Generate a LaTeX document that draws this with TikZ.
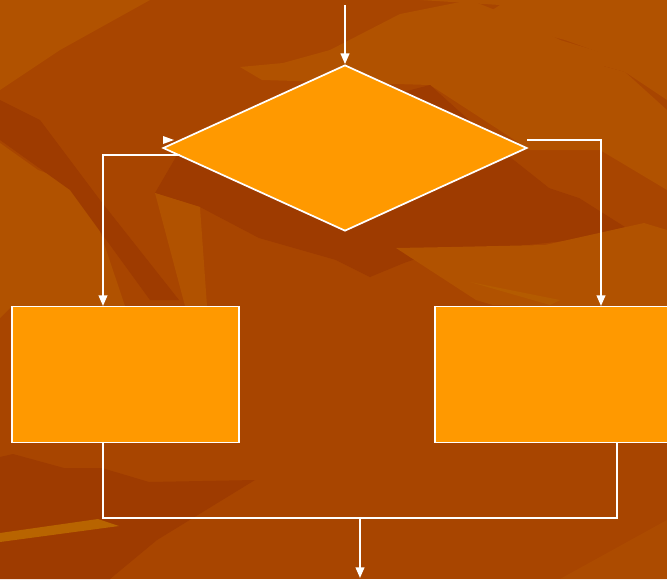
\documentclass[tikz,border=0pt]{standalone}
\usetikzlibrary{shapes.geometric,arrows.meta}
\definecolor{bgbase}{RGB}{168,69,0}
\definecolor{bglight}{RGB}{177,82,0}
\definecolor{bgdark}{RGB}{158,59,0}
\definecolor{bgstreak}{RGB}{184,100,0}
\definecolor{boxfill}{RGB}{255,153,0}
\tikzset{
  x=0.75pt,y=-0.75pt,
  flowbox/.style={draw=white,line width=1.3pt,fill=boxfill,inner sep=0pt},
  decision/.style={diamond,draw=white,line width=1.3pt,fill=boxfill,inner sep=0pt,
     minimum width=273pt,minimum height=124.5pt},
  link/.style={draw=white,line width=1.4pt},
  arr/.style={link,-{Triangle[length=8pt,width=6.5pt]}},
}
\begin{document}
\begin{tikzpicture}
\useasboundingbox (0,0) rectangle (667,579);
\clip (0,0) rectangle (667,579);
% background
\fill[bgbase] (0,0) rectangle (667,579);
\fill[bglight] (0,0) -- (150,0) -- (60,50) -- (0,90) -- cycle;
\fill[bglight] (420,0) -- (667,0) -- (667,100) -- (625,72) -- (600,65) -- (598,52) -- (565,40) -- (480,18) -- (500,5) -- cycle;
\fill[bglight] (240,67) -- (283,63) -- (330,50) -- (400,14) -- (470,0) -- (520,20) -- (560,40) -- (600,52) -- (603,66) -- (625,72) -- (667,110) -- (667,190) -- (600,150) -- (530,150) -- (430,85) -- (262,80) -- cycle;
\fill[bgdark] (430,85) -- (510,157) -- (549,188) -- (579,198) -- (625,227) -- (574,240) -- (481,250) -- (451,247) -- (404,263) -- (370,277) -- (336,260) -- (259,238) -- (200,207) -- (155,193) -- (180,150) -- cycle;
\fill[bglight] (396,248) -- (451,247) -- (545,245) -- (644,223) -- (667,230) -- (667,310) -- (493,305) -- (476,300) -- cycle;
\fill[bgstreak,opacity=0.5] (470,282) -- (560,300) -- (550,305) -- cycle;
\fill[bglight] (0,143) -- (38,170) -- (85,187) -- (125,306) -- (12,306) -- (0,318) -- cycle;
\fill[bgdark] (0,100) -- (40,120) -- (100,200) -- (179,300) -- (150,300) -- (70,190) -- (0,140) -- cycle;
\fill[bglight] (155,193) -- (200,207) -- (207,306) -- (185,306) -- cycle;
\fill[bgdark] (0,457) -- (13,454) -- (64,468) -- (102,468) -- (149,482) -- (255,480) -- (157,540) -- (110,579) -- (0,579) -- cycle;
\fill[bgstreak] (0,533) -- (98,519) -- (119,526) -- (0,542) -- cycle;
\fill[bglight,opacity=0.5] (560,579) -- (667,520) -- (667,579) -- cycle;
% nodes
\node[decision] (dec) at (345,148) {};
\node[flowbox,minimum width=170.25pt,minimum height=102pt] (lbox) at (125.5,374.5) {};
\node[flowbox,minimum width=186pt,minimum height=102pt] (rbox) at (559,374.5) {};
\coordinate (top) at (345,5);
\coordinate (lstart) at (180,155);
\coordinate (lcorner) at (103,155);
\coordinate (lend) at (103,306);
\coordinate (rstart) at (527,140);
\coordinate (rend) at (601,306);
\coordinate (lbot) at (103,443);
\coordinate (rbot) at (617,443);
\coordinate (join) at (360,518);
\coordinate (outend) at (360,578);
% connectors
\draw[arr] (top) -- (dec.north);
\draw[arr] (lstart) -- (lcorner) -- (lend);
\draw[arr] (rstart) -| (rend);
\draw[link] (lbot) |- (join) -| (rbot);
\draw[arr] (join) -- (outend);
% stray arrow tip
\fill[white] (163,136) -- (174,140) -- (163,144) -- cycle;
\end{tikzpicture}
\end{document}
